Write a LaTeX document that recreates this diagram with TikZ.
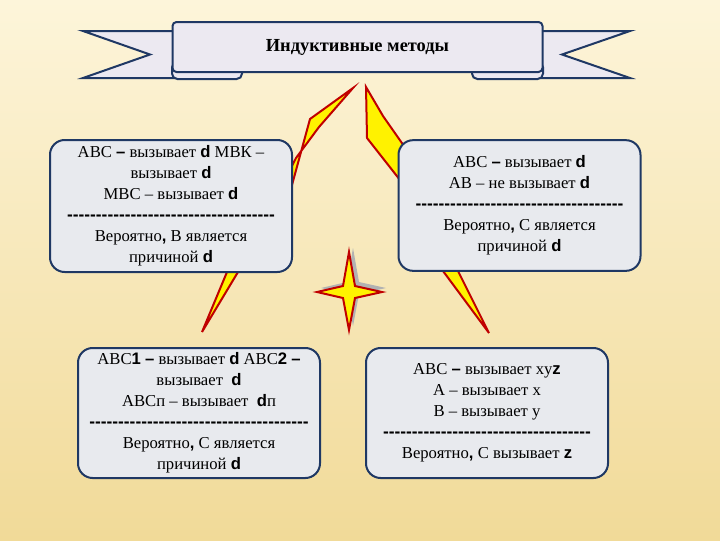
\documentclass[tikz,border=0pt]{standalone}
\usepackage{fontspec}
\setmainfont{Liberation Serif}
\newfontfamily\sansfam{Liberation Sans}
\usetikzlibrary{positioning}

\definecolor{navy}{HTML}{1F3864}
\definecolor{boxgray}{HTML}{E8EAEE}
\definecolor{boltred}{HTML}{C00000}
\definecolor{ribbon}{HTML}{ECE9F1}
\definecolor{bgtop}{HTML}{FDF5DA}
\definecolor{bgbot}{HTML}{F1DA98}

\newcommand\hv[1]{{\sansfam\bfseries #1}}
\newcommand\dashrow[1]{{\sansfam\bfseries\fontsize{13}{15}\selectfont\foreach\k in {1,...,#1}{-\kern0pt}}}

\begin{document}
\begin{tikzpicture}[x=0.75pt,y=-0.75pt,
  box/.style={rectangle,rounded corners=11pt,draw=navy,line width=1.5pt,fill=boxgray,
    minimum width=181.5pt,minimum height=98pt,align=center,
    font=\fontsize{12.5}{15.75}\selectfont},
  banner/.style={draw=navy,line width=1.5pt,fill=ribbon},
  bolt/.style={draw=boltred,fill=yellow,line width=1.5pt,line join=miter}]
\useasboundingbox (0,0) rectangle (720,540);
\fill[top color=bgtop,bottom color=bgbot] (0,0) rectangle (720,540);

% ribbon
\draw[banner] (83,31) -- (200,31) -- (200,78) -- (83,78) -- (150,54.5) -- cycle;
\draw[banner] (514,31) -- (630,31) -- (562,54.5) -- (630,78) -- (514,78) -- cycle;
\draw[banner,rounded corners=4pt] (172,62) rectangle (242,79);
\draw[banner,rounded corners=4pt] (472,62) rectangle (543,79);
\node (title) [banner,rectangle,rounded corners=3pt,minimum width=277.5pt,minimum height=37.5pt,
  font=\bfseries\fontsize{13.8}{15}\selectfont] at (357.5,47) {Индуктивные методы};

% lightning
\draw[bolt] (353,88) -- (310,119) -- (292,185) -- (227,272) -- (202,332) -- (238,272)
  -- (296,158) -- (319,127) -- cycle;
\draw[bolt] (366,87) -- (383,116) -- (404,146) -- (458,271) -- (489,333) -- (443,271)
  -- (400,180) -- (367,138) -- cycle;

% star
\fill[gray!60,shift={(353,288)}] (0,-40) -- (6,-6) -- (33,0) -- (6,6) -- (0,38) -- (-6,6)
  -- (-32,0) -- (-6,-6) -- cycle;
\draw[bolt,shift={(349,292)}] (0,-40) -- (6,-6) -- (33,0) -- (6,6) -- (0,38) -- (-6,6)
  -- (-32,0) -- (-6,-6) -- cycle;

\node (agree) [box,minimum height=99pt] at (171,206)
  {АВС \hv{–} вызывает \hv{d} МВК –\\ вызывает \hv{d}\\ МВС – вызывает \hv{d}\\
   \dashrow{36}\\ Вероятно\hv{,} В является\\ причиной \hv{d}};
\node (differ) [box] at (519.5,205.5)
  {АВС \hv{–} вызывает \hv{d}\\ АВ – не вызывает \hv{d}\\
   \dashrow{36}\\ Вероятно\hv{,} С является\\ причиной \hv{d}};
\node (change) [box,minimum height=97.5pt] at (199,413)
  {АВС\hv{1} \hv{–} вызывает \hv{d} АВС\hv{2} \hv{–}\\ вызывает \ \hv{d}\\
   АВСп – вызывает \ \hv{d}п\\ \dashrow{38}\\ Вероятно\hv{,} С является\\ причиной \hv{d}};
\node (rest) [box,minimum height=97.5pt] at (487,413)
  {АВС \hv{–} вызывает xy\hv{z}\\ А – вызывает x\\ В – вызывает y\\
   \dashrow{36}\\ Вероятно\hv{,} С вызывает \hv{z}};
\end{tikzpicture}
\end{document}
